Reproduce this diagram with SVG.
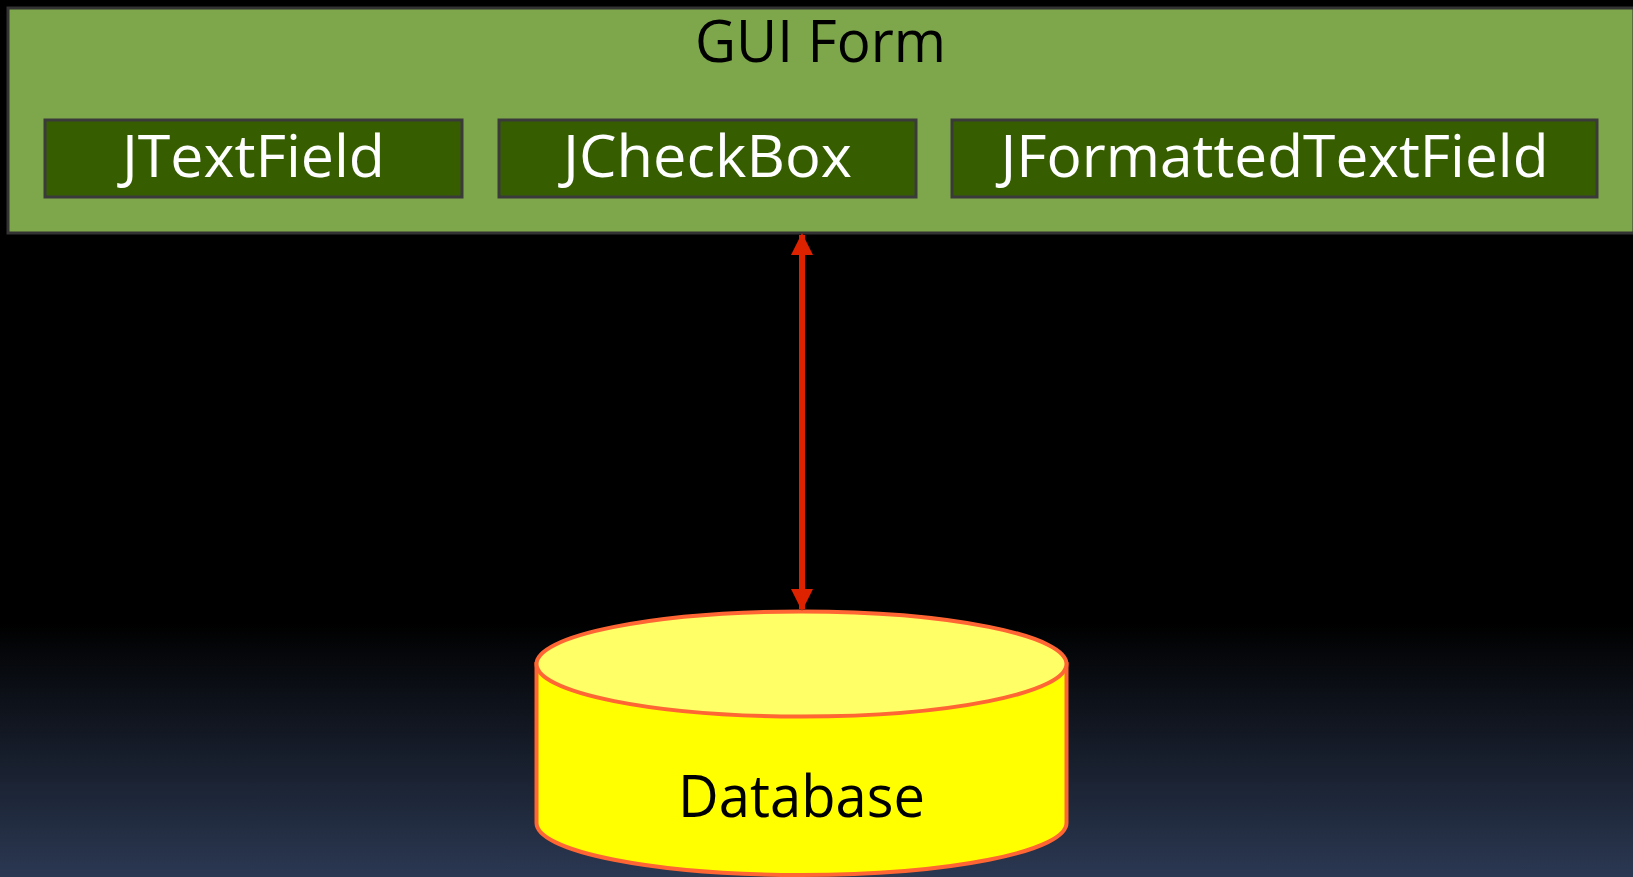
<svg xmlns="http://www.w3.org/2000/svg" width="1633" height="877" viewBox="0 0 1633 877">
<defs>
<linearGradient id="bg" x1="0" y1="0" x2="0" y2="1">
<stop offset="0" stop-color="#000000"/>
<stop offset="0.71" stop-color="#000000"/>
<stop offset="1" stop-color="#2B3852"/>
</linearGradient>
<marker id="ah" viewBox="0 0 22 22" refX="20" refY="11" markerWidth="22" markerHeight="22" markerUnits="userSpaceOnUse" orient="auto-start-reverse">
<path d="M0,0 L22,11 L0,22 Z" fill="#DD2200"/>
</marker>
<style>
.lbl{font-family:"Open Sans","Liberation Sans",sans-serif;font-size:59px;text-anchor:middle}
.box{fill:#365E00;stroke:#3A3A3A;stroke-width:3}
.wt{fill:#FFFFFF}
.bk{fill:#000000}
.cyl{stroke:#FF6633;stroke-width:4}
</style>
</defs>
<rect x="0" y="0" width="1633" height="877" fill="url(#bg)"/>
<g id="gui-form">
<rect x="8" y="8" width="1626" height="225" fill="#7EA64A" stroke="#333333" stroke-width="3"/>
<text class="lbl bk" x="820.5" y="62" textLength="251" lengthAdjust="spacingAndGlyphs">GUI Form</text>
</g>
<g id="jtextfield">
<rect class="box" x="45" y="120" width="417" height="77"/>
<text class="lbl wt" x="253.5" y="177" textLength="263" lengthAdjust="spacingAndGlyphs">JTextField</text>
</g>
<g id="jcheckbox">
<rect class="box" x="499" y="120" width="417" height="77"/>
<text class="lbl wt" x="707.5" y="177" textLength="289" lengthAdjust="spacingAndGlyphs">JCheckBox</text>
</g>
<g id="jformattedtextfield">
<rect class="box" x="952" y="120" width="645" height="77"/>
<text class="lbl wt" x="1274.5" y="177" textLength="548" lengthAdjust="spacingAndGlyphs">JFormattedTextField</text>
</g>
<g id="database">
<path class="cyl" d="M536.5,664 L536.5,823 A265,52 0 0 0 1066.5,823 L1066.5,664 Z" fill="#FFFF00"/>
<ellipse class="cyl" cx="801.5" cy="664" rx="265" ry="52.5" fill="#FFFF66"/>
<text class="lbl bk" x="801.5" y="817" textLength="247" lengthAdjust="spacingAndGlyphs">Database</text>
</g>
<g id="connectors">
<line x1="802" y1="235" x2="802" y2="609" stroke="#DD2200" stroke-width="6" marker-start="url(#ah)" marker-end="url(#ah)"/>
</g>
</svg>
